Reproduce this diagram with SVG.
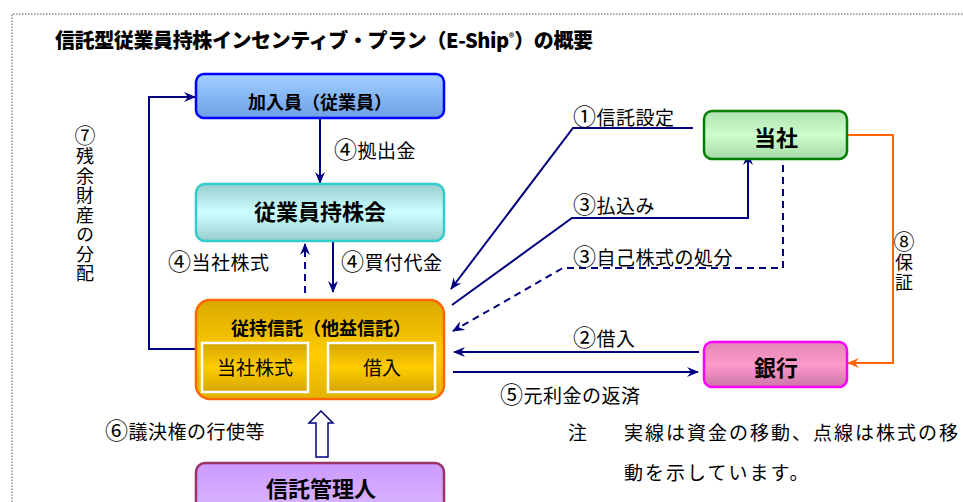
<svg xmlns="http://www.w3.org/2000/svg" width="963" height="502" viewBox="0 0 963 502">
<style>
text{font-family:"Noto Sans CJK JP","Noto Sans",sans-serif;fill:#000}
.lbl{font-size:19px;letter-spacing:0.5px}
.c{font-size:23px}
.bt{font-weight:bold;text-anchor:middle}
.vt{font-size:18px;writing-mode:vertical-rl;letter-spacing:1.5px}
.vc{font-size:21px}
.note{font-size:19px;letter-spacing:2px}
.ln{fill:none;stroke:#000080;stroke-width:2}
.dash{stroke-dasharray:7,5}
</style>
<defs>
<marker id="ah" viewBox="0 0 12 10" refX="11" refY="5" markerWidth="12" markerHeight="10" orient="auto" markerUnits="userSpaceOnUse"><path d="M0,0 L12,5 L0,10 L4,5 z" fill="#000080"/></marker>
<marker id="aho" viewBox="0 0 12 10" refX="11" refY="5" markerWidth="12" markerHeight="10" orient="auto" markerUnits="userSpaceOnUse"><path d="M0,0 L12,5 L0,10 L4,5 z" fill="#ff6600"/></marker>
<linearGradient id="gBlue" x1="0" y1="0" x2="0" y2="1"><stop offset="0" stop-color="#a0d0ff"/><stop offset="1" stop-color="#6f9fe6"/></linearGradient>
<linearGradient id="gCyan" x1="0" y1="0" x2="0" y2="1"><stop offset="0" stop-color="#99cccc"/><stop offset="0.5" stop-color="#ccffff"/><stop offset="1" stop-color="#99cccc"/></linearGradient>
<linearGradient id="gGold" x1="0" y1="0" x2="0" y2="1"><stop offset="0" stop-color="#d9a900"/><stop offset="0.55" stop-color="#ffcc00"/><stop offset="1" stop-color="#e2b300"/></linearGradient>
<linearGradient id="gGoldIn" x1="0" y1="0" x2="0" y2="1"><stop offset="0" stop-color="#d4a500"/><stop offset="0.5" stop-color="#ffcc00"/><stop offset="1" stop-color="#d4a500"/></linearGradient>
<linearGradient id="gGreen" x1="0" y1="0" x2="0" y2="1"><stop offset="0" stop-color="#b0e0b0"/><stop offset="0.5" stop-color="#ccffcc"/><stop offset="1" stop-color="#a8d8a8"/></linearGradient>
<linearGradient id="gPink" x1="0" y1="0" x2="0" y2="1"><stop offset="0" stop-color="#dd88b0"/><stop offset="0.5" stop-color="#ff99cc"/><stop offset="1" stop-color="#cc77a8"/></linearGradient>
<linearGradient id="gPurple" x1="0" y1="0" x2="0" y2="1"><stop offset="0" stop-color="#cc99ff"/><stop offset="1" stop-color="#ddbbff"/></linearGradient>
</defs>
<rect width="963" height="502" fill="#fff"/>
<path d="M12,502 L12,14 L963,14" fill="none" stroke="#555" stroke-width="1" stroke-dasharray="1.5,1.5"/>
<text x="55" y="48" style="font-size:20px;font-weight:900" textLength="538" lengthAdjust="spacing">信託型従業員持株インセンティブ・プラン（E-Ship<tspan style="font-size:12px;font-weight:normal" dy="-6">®</tspan><tspan dy="6">）の概要</tspan></text>

<g id="connectors">
<path class="ln" d="M320,118 L320,183" marker-end="url(#ah)"/>
<path class="ln" d="M333,223 L333,292" marker-end="url(#ah)"/>
<path class="ln dash" d="M305,293 L305,244" marker-end="url(#ah)"/>
<path class="ln" d="M196,349 L149,349 L149,97 L195,97" marker-end="url(#ah)"/>
<path class="ln" d="M693,128 L573,128 L451,289" marker-end="url(#ah)"/>
<path class="ln" d="M452,305 L572,218 L748,218 L748,154" marker-end="url(#ah)"/>
<path class="ln dash" d="M783,153 L783,268 L563,268 L453,331" marker-end="url(#ah)"/>
<path class="ln" d="M699,352 L454,352" marker-end="url(#ah)"/>
<path class="ln" d="M453,372 L698,372" marker-end="url(#ah)"/>
<path d="M847,135 L893,135 L893,363 L848,363" fill="none" stroke="#ff6600" stroke-width="2" marker-end="url(#aho)"/>
<path d="M316,457 L316,423 L309,423 L321,411 L333,423 L328,423 L328,457 Z" fill="#fff" stroke="#000080" stroke-width="1.5"/>
</g>

<g id="labels">
<text class="lbl" x="334" y="158"><tspan class="c">④</tspan>拠出金</text>
<text class="lbl" x="168" y="270"><tspan class="c">④</tspan>当社株式</text>
<text class="lbl" x="341" y="270"><tspan class="c">④</tspan>買付代金</text>
<text class="lbl" x="573" y="125"><tspan class="c">①</tspan>信託設定</text>
<text class="lbl" x="573" y="213"><tspan class="c">③</tspan>払込み</text>
<text class="lbl" x="573" y="265"><tspan class="c">③</tspan>自己株式の処分</text>
<text class="lbl" x="573" y="346"><tspan class="c">②</tspan>借入</text>
<text class="lbl" x="500" y="403"><tspan class="c">⑤</tspan>元利金の返済</text>
<text class="lbl" x="105" y="439"><tspan class="c">⑥</tspan>議決権の行使等</text>
<text class="vt" x="85" y="125"><tspan class="vc">⑦</tspan>残余財産の分配</text>
<rect x="895" y="232" width="20" height="61" fill="#fff"/>
<text class="vt" x="904" y="231"><tspan class="vc">⑧</tspan>保証</text>
<text class="note" x="568" y="440">注</text>
<text class="note" x="624" y="440">実線は資金の移動、点線は株式の移</text>
<text class="note" x="624" y="480">動を示しています。</text>
</g>

<g id="n-kanyuin">
<rect x="196" y="74" width="248" height="44" rx="8" fill="url(#gBlue)" stroke="#0000ff" stroke-width="2.5"/>
<text class="bt" x="320" y="109" style="font-size:18px">加入員（従業員）</text>
</g>
<g id="n-mochikabukai">
<rect x="196" y="184" width="248" height="57" rx="9" fill="url(#gCyan)" stroke="#33cccc" stroke-width="2.5"/>
<text class="bt" x="320" y="220" style="font-size:22px">従業員持株会</text>
</g>
<g id="n-juji">
<rect x="196" y="300" width="248" height="99" rx="14" fill="url(#gGold)" stroke="#ff6600" stroke-width="2.5"/>
<text class="bt" x="321" y="335" style="font-size:18px">従持信託（他益信託）</text>
</g>
<g id="n-tosha-kabu">
<rect x="202" y="343" width="106" height="49" fill="url(#gGoldIn)" stroke="#fff" stroke-width="2.5"/>
<text x="255" y="375" style="font-size:19px;text-anchor:middle">当社株式</text>
</g>
<g id="n-kariire">
<rect x="328" y="343" width="107" height="49" fill="url(#gGoldIn)" stroke="#fff" stroke-width="2.5"/>
<text x="382" y="375" style="font-size:19px;text-anchor:middle">借入</text>
</g>
<g id="n-kanrinin">
<rect x="196" y="463" width="248" height="60" rx="9" fill="url(#gPurple)" stroke="#993366" stroke-width="2.5"/>
<text class="bt" x="321" y="497" style="font-size:22px">信託管理人</text>
</g>
<g id="n-tosha">
<rect x="704" y="111" width="143" height="48" rx="8" fill="url(#gGreen)" stroke="#008000" stroke-width="2.5"/>
<text class="bt" x="776" y="146" style="font-size:22px">当社</text>
</g>
<g id="n-ginko">
<rect x="704" y="342" width="143" height="45" rx="8" fill="url(#gPink)" stroke="#ff00ff" stroke-width="2.5"/>
<text class="bt" x="776" y="376" style="font-size:22px">銀行</text>
</g>
</svg>
